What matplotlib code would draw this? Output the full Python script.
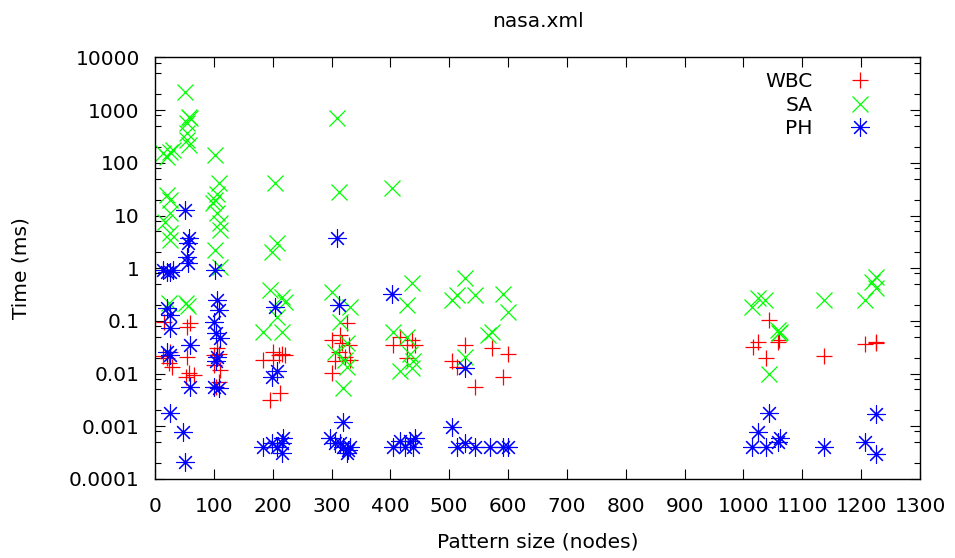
import numpy as np
import matplotlib

matplotlib.use("Agg")
import matplotlib.pyplot as plt
from matplotlib.ticker import LogLocator, NullFormatter, FixedLocator

# pattern size (nodes) / time (ms)
wbc_x = [15, 54, 59, 23, 29, 20, 14, 26,
         54, 57, 52, 66,
         105, 108, 100, 111, 108, 103, 100,
         184, 201, 210, 215, 201, 221, 212, 195,
         326, 314, 300, 317, 329, 312, 323, 306, 331, 300,
         405, 416, 428, 436, 442, 428,
         527, 504, 513, 572, 600, 592, 544,
         1044, 1016, 1025, 1038, 1061, 1058, 1137, 1207, 1226, 1226]
wbc_t = [0.097, 0.078, 0.09, 0.0157, 0.0135, 0.0195, 0.022, 0.0255,
         0.021, 0.0101, 0.0087, 0.0094,
         0.030, 0.024, 0.0146, 0.0117, 0.007, 0.0055, 0.023,
         0.018, 0.026, 0.0225, 0.024, 0.018, 0.0225, 0.0042, 0.0032,
         0.09, 0.054, 0.043, 0.038, 0.035, 0.026, 0.021, 0.017, 0.018, 0.0101,
         0.035, 0.05, 0.035, 0.043, 0.035, 0.0195,
         0.035, 0.017, 0.0135, 0.03, 0.024, 0.0087, 0.0056,
         0.104, 0.032, 0.039, 0.02, 0.043, 0.04, 0.0215, 0.036, 0.04, 0.038]

sa_x = [51, 57, 54, 59, 54, 54, 57,
        14, 20, 26, 31, 102,
        20, 26, 26, 17, 26, 26,
        108, 105, 102, 99, 105, 110, 110, 102, 110,
        204, 207, 198, 309, 312, 402,
        23, 52, 56,
        195, 215, 221, 207, 184, 215,
        300, 331, 314, 326, 306, 323, 326, 320,
        436, 428, 527, 513, 504, 544, 592, 600, 572, 566,
        405, 428, 433, 439, 416, 436, 527,
        1014, 1025, 1037, 1059, 1062, 1060, 1044, 1137, 1207, 1226, 1226, 1218]
sa_t = [2200, 750, 560, 700, 360, 270, 216,
        152, 130, 160, 174, 140,
        24.5, 19.7, 11, 7.6, 4.6, 3.4,
        41, 26, 19.7, 17, 11, 7.1, 5.3, 2.2, 1.07,
        41, 3.0, 2.06, 700, 28, 33,
        0.215, 0.215, 0.19,
        0.385, 0.29, 0.23, 0.12, 0.062, 0.062,
        0.36, 0.186, 0.097, 0.038, 0.026, 0.018, 0.0135, 0.0053,
        0.52, 0.2, 0.64, 0.31, 0.25, 0.31, 0.33, 0.15, 0.062, 0.054,
        0.062, 0.05, 0.024, 0.017, 0.011, 0.0126, 0.021,
        0.186, 0.27, 0.25, 0.067, 0.062, 0.058, 0.01, 0.25, 0.25, 0.42, 0.69, 0.55]

ph_x = [51, 57, 56, 55, 56,
        20, 26, 14, 31, 102, 309,
        20, 26, 26, 20, 26, 60, 60,
        105, 108, 100, 103, 111, 103, 105, 108, 100,
        26, 48, 51,
        204, 207, 199,
        184, 199, 207, 216, 218, 216,
        312, 320,
        297, 306, 314, 320, 328, 331, 326,
        402,
        404, 416, 425, 433, 438, 442,
        527, 505,
        513, 527, 544, 569, 591, 600,
        1044, 1025, 1014, 1038, 1059, 1062, 1137, 1207, 1226, 1226]
ph_t = [12.7, 3.7, 3.0, 1.6, 1.24,
        0.86, 0.86, 0.92, 0.92, 0.92, 3.7,
        0.174, 0.13, 0.072, 0.026, 0.023, 0.035, 0.0056,
        0.25, 0.16, 0.097, 0.058, 0.047, 0.017, 0.021, 0.0053, 0.0056,
        0.0018, 0.00078, 0.00021,
        0.186, 0.011, 0.0087,
        0.0004, 0.00048, 0.0004, 0.00048, 0.0006, 0.00031,
        0.2, 0.0012,
        0.0006, 0.00048, 0.00048, 0.0004, 0.00035, 0.0004, 0.00031,
        0.33,
        0.0004, 0.00052, 0.0004, 0.00052, 0.0004, 0.0006,
        0.0128, 0.00097,
        0.0004, 0.00049, 0.0004, 0.0004, 0.0004, 0.0004,
        0.0018, 0.00079, 0.0004, 0.0004, 0.00051, 0.00059, 0.0004, 0.0005, 0.0017, 0.0003]

y_ticks = [1e-4, 1e-3, 1e-2, 1e-1, 1, 10, 100, 1000, 10000]
y_labels = ["0.0001", "0.001", "0.01", "0.1", "1", "10", "100", "1000", "10000"]
x_ticks = list(range(0, 1301, 100))

FS = 14.5
ASTERISK = (8, 2, 0)  # gnuplot-style star: + and x together

fig = plt.figure(figsize=(9.55, 5.58), dpi=100)
ax = fig.add_subplot(111)
fig.subplots_adjust(left=0.1623, right=0.9634, top=0.8971, bottom=0.1416)

ax.plot(wbc_x, wbc_t, ls="none", marker="+", ms=12, mew=0.9, color="#ff0000", label="WBC")
ax.plot(sa_x, sa_t, ls="none", marker="x", ms=12, mew=0.9, color="#00ff00", label="SA")
ax.plot(ph_x, ph_t, ls="none", marker=ASTERISK, ms=13, mew=0.8, color="#0000ff", label="PH")

ax.set_yscale("log")
ax.set_xlim(0, 1300)
ax.set_ylim(1e-4, 1e4)
ax.set_xticks(x_ticks)
ax.set_xticklabels([str(v) for v in x_ticks])
ax.yaxis.set_major_locator(FixedLocator(y_ticks))
ax.set_yticklabels(y_labels)
ax.yaxis.set_minor_locator(LogLocator(base=10, subs=(2, 5, 8), numticks=20))
ax.yaxis.set_minor_formatter(NullFormatter())

ax.tick_params(which="both", direction="in", top=True, right=True, labelsize=FS, width=0.8)
ax.tick_params(which="major", length=7.2)
ax.tick_params(which="minor", length=4.3)
ax.tick_params(axis="x", pad=13)
ax.tick_params(axis="y", pad=11)
for sp in ax.spines.values():
    sp.set_linewidth(1.0)

ax.set_title("nasa.xml", fontsize=FS, pad=22)
ax.set_xlabel("Pattern size (nodes)", fontsize=FS, labelpad=12)
ax.set_ylabel("Time (ms)", fontsize=FS, labelpad=28)

ax.legend(loc="upper right", bbox_to_anchor=(0.9587, 0.984), borderaxespad=0,
          frameon=False, markerfirst=False, numpoints=1, fontsize=FS,
          handlelength=2, handletextpad=1.37, labelspacing=0.23)

fig.savefig("out.png", dpi=100)
